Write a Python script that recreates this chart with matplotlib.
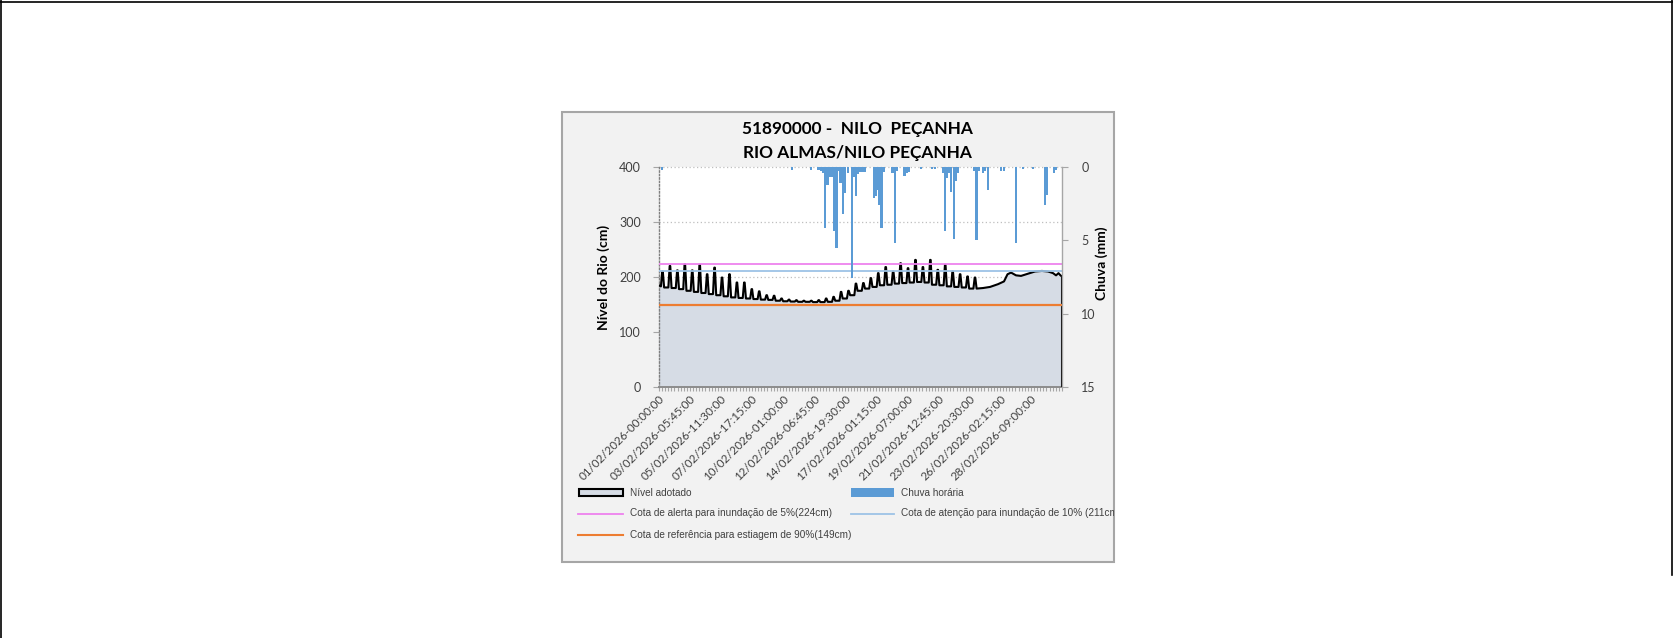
import matplotlib
matplotlib.use("Agg")
import matplotlib.pyplot as plt
from matplotlib.patches import Rectangle
from matplotlib.lines import Line2D
import numpy as np

# ---------------- data ----------------
titulo1 = "51890000 -  NILO  PEÇANHA"
titulo2 = "RIO ALMAS/NILO PEÇANHA"

rotulos_x = ["01/02/2026-00:00:00", "03/02/2026-05:45:00", "05/02/2026-11:30:00",
             "07/02/2026-17:15:00", "10/02/2026-01:00:00", "12/02/2026-06:45:00",
             "14/02/2026-19:30:00", "17/02/2026-01:15:00", "19/02/2026-07:00:00",
             "21/02/2026-12:45:00", "23/02/2026-20:30:00", "26/02/2026-02:15:00",
             "28/02/2026-09:00:00"]
horas_por_rotulo = 53.75          # 215 registros de 15 min entre rótulos
n_intervalos = 13

# nível (cm): picos de maré (hora, valor) e vales entre eles
nivel_inicio = 185
hora_pico = [6.1, 19.0, 31.9, 44.8, 57.7, 70.6, 83.5, 96.4, 109.3, 122.2, 135.1,
             148.0, 160.9, 173.8, 186.7, 199.6, 212.5, 225.4, 238.3, 251.2, 264.1,
             277.0, 289.9, 302.8, 315.7, 328.6, 341.5, 354.4, 367.3, 380.2, 393.1,
             406.0, 418.9, 431.8, 444.7, 457.6, 470.5, 483.4, 496.3, 509.2, 522.1,
             535.0, 547.9]
nivel_pico = [210, 220, 212, 223, 212, 222, 205, 217, 199, 205, 190, 190, 178, 174,
              167, 166, 161, 159, 158, 157, 157, 158, 161, 164, 173, 175, 188, 189,
              198, 207, 218, 210, 225, 216, 231, 218, 231, 213, 222, 210, 205, 201, 199]
nivel_vale = [183, 181, 180, 178, 175, 173, 171, 169, 167, 165, 163, 162, 161, 160,
              159, 158.5, 157, 156, 155.5, 155, 155, 154.5, 154.5, 155, 157, 161, 167,
              175, 179, 182, 185, 186, 188, 189, 190, 191, 190, 186, 185, 183, 182,
              181, 179, 179]
hora_final = [561.8, 574.0, 587.8, 598.2, 604.3, 610.4, 619.0, 627.7, 639.8, 652.0,
              664.0, 674.5, 683.2, 688.4, 692.7, 696.1, 698.75]
nivel_final = [180, 182, 187, 192, 205, 208, 203, 202, 206, 210, 211, 210, 207, 203,
               207, 203, 201]

# chuva horária (mm)
hora_chuva = [5.2, 230.1, 263.6, 276.6, 280.9, 284.9, 288.4, 292.2, 296.0, 300.0,
              304.3, 307.8, 311.3, 314.7, 318.7, 322.5, 327.7, 334.1, 337.6, 341.6,
              345.6, 349.4, 352.9, 356.3, 372.0, 375.4, 378.5, 382.0, 385.8, 389.3,
              404.9, 409.2, 413.0, 425.7, 430.0, 433.5, 454.3, 473.4, 478.6, 492.5,
              495.9, 499.4, 502.9, 506.3, 510.7, 515.0, 518.5, 547.1, 550.5, 554.0,
              561.8, 565.3, 571.0, 593.0, 597.4, 619.0, 631.2, 648.5, 668.8, 672.3,
              684.1, 688.4]
chuva = [0.2, 0.2, 0.2, 0.25, 0.3, 0.45, 4.2, 1.25, 0.7, 0.7,
         4.4, 5.55, 0.3, 1.1, 3.2, 1.8, 0.45, 7.6, 0.7, 2.0,
         0.5, 0.35, 0.35, 0.35, 2.15, 2.0, 1.6, 2.6, 4.2, 0.35,
         0.45, 5.2, 0.3, 0.6, 0.45, 0.35, 0.15, 0.15, 0.15, 0.45,
         4.4, 0.8, 0.45, 1.7, 4.9, 1.0, 0.45, 0.3, 5.0, 0.3,
         0.45, 0.3, 1.6, 0.3, 0.3, 5.2, 0.15, 0.15, 2.6, 1.9,
         0.4, 0.2]

cota_alerta = 224
cota_atencao = 211
cota_estiagem = 149

rotulo_nivel = "Nível adotado"
rotulo_chuva = "Chuva horária"
rotulo_alerta = "Cota de alerta para inundação de 5%(224cm)"
rotulo_atencao = "Cota de atenção para inundação de 10% (211cm)"
rotulo_estiagem = "Cota de referência para estiagem de 90%(149cm)"

# ---------------- styles ----------------
COR_AREA = "#d6dce5"
COR_CHUVA = "#5b9bd5"
COR_ALERTA = "#ee82ee"
COR_ATENCAO = "#9dc3e6"
COR_ESTIAGEM = "#ed7d31"
COR_EIXO = "#a6a6a6"
COR_TXT = "#404040"
FONTE = ["Lato", "DejaVu Sans"]
FONTE_LEG = ["Liberation Sans", "DejaVu Sans"]
base_pico = 2.8   # half width of a tide spike at its base (h)
topo_pico = 0.5   # half width of a tide spike at its top (h)

W, H = 1674, 638
fig = plt.figure(figsize=(W / 100, H / 100), dpi=100)
fig.patch.set_facecolor("white")


def fx(px):
    return px / W


def fy(py):
    return 1 - py / H


# outer frame lines of the page
fig.add_artist(Line2D([fx(1.5), fx(1.5)], [0, 1], color="black", lw=1.2))
fig.add_artist(Line2D([0, 1], [fy(1.5), fy(1.5)], color="black", lw=1.2))
fig.add_artist(Line2D([fx(1672), fx(1672)], [fy(575), 1], color="black", lw=1.2))

# chart panel
panel = Rectangle((fx(562.5), fy(561.5)), fx(1114) - fx(562.5), fy(112) - fy(561.5),
                  transform=fig.transFigure, facecolor="#f2f2f2",
                  edgecolor=COR_EIXO, linewidth=1.5, zorder=-5)
fig.add_artist(panel)

ax = fig.add_axes([fx(659), fy(387.3), fx(1062) - fx(659), fy(166.7) - fy(387.3)])
ax.set_facecolor("white")

# build level polyline from readings
t_lvl = [0.0]
v_lvl = [nivel_inicio]
for k in range(len(hora_pico)):
    t_lvl += [hora_pico[k] - base_pico, hora_pico[k] - topo_pico,
              hora_pico[k] + topo_pico, hora_pico[k] + base_pico]
    v_lvl += [nivel_vale[k], nivel_pico[k], nivel_pico[k], nivel_vale[k + 1]]
t_lvl += hora_final
v_lvl += nivel_final

ax.fill_between(t_lvl, v_lvl, 0, facecolor=COR_AREA, linewidth=0, zorder=1)
ax.plot(t_lvl, v_lvl, color="black", lw=1.5, zorder=3, solid_joinstyle="round")
ax.vlines(t_lvl[-1], 0, v_lvl[-1], color="black", lw=2.2, zorder=3)

ax.axhline(cota_alerta, color=COR_ALERTA, lw=1.3, zorder=4)
ax.axhline(cota_atencao, color=COR_ATENCAO, lw=1.3, zorder=4)
ax.axhline(cota_estiagem, color=COR_ESTIAGEM, lw=1.6, zorder=4)

span = horas_por_rotulo * n_intervalos
ax.set_xlim(0, span)
ax.set_ylim(0, 400)
ax.set_yticks([0, 100, 200, 300, 400])
for gy in [100, 200, 300, 400]:
    ax.axhline(gy, color="#bfbfbf", lw=0.9, ls=(0, (1, 2)), zorder=0.5, clip_on=False)

ax.set_xticks(np.arange(len(rotulos_x)) * horas_por_rotulo)
ax.set_xticks(np.arange(0, span + 0.01, horas_por_rotulo / 10), minor=True)
ax.set_xticklabels(rotulos_x, rotation=45, ha="right", rotation_mode="anchor",
                   fontsize=8.4, color=COR_TXT, family=FONTE)
ax.tick_params(axis="x", which="both", length=3, color=COR_EIXO, width=0.8, pad=1)
ax.tick_params(axis="y", length=4, color=COR_EIXO, width=0.8, pad=9,
               labelsize=9, labelcolor=COR_TXT)
for lab in ax.get_yticklabels():
    lab.set_family(FONTE)

ax.spines["top"].set_visible(False)
ax.spines["right"].set_visible(False)
ax.spines["left"].set_linestyle((0, (1, 1.5)))
ax.spines["left"].set_color("#7f7f7f")
ax.spines["left"].set_linewidth(1.0)
ax.spines["bottom"].set_color("#8c8c8c")
ax.spines["bottom"].set_linewidth(1.4)

# rain on secondary inverted axis
ax2 = ax.twinx()
ax2.bar(hora_chuva, chuva, width=3.6, color=COR_CHUVA, linewidth=0, zorder=2)
ax2.set_ylim(15, 0)
ax2.set_yticks([0, 5, 10, 15])
ax2.tick_params(axis="y", length=4, color=COR_EIXO, width=0.8, pad=10,
                labelsize=9, labelcolor=COR_TXT)
for lab in ax2.get_yticklabels():
    lab.set_family(FONTE)
for s in ["top", "left", "bottom"]:
    ax2.spines[s].set_visible(False)
ax2.spines["right"].set_color(COR_EIXO)
ax2.spines["right"].set_linewidth(1.0)

# titles / axis labels
fig.text(fx(857), fy(129.4), titulo1, ha="center", va="center", fontsize=12.4,
         fontweight="bold", family=FONTE, color="black")
fig.text(fx(857), fy(152.7), titulo2, ha="center", va="center", fontsize=12.4,
         fontweight="bold", family=FONTE, color="black")
fig.text(fx(603.3), fy(277), "Nível do Rio (cm)", rotation=90, ha="center", va="center",
         fontsize=10, fontweight="bold", family=FONTE, color="black")
fig.text(fx(1101.7), fy(263.5), "Chuva (mm)", rotation=90, ha="center", va="center",
         fontsize=10, fontweight="bold", family=FONTE, color="black")

# legend (drawn manually inside the panel)
def leg_patch(x0, x1, yc, h, fc, ec, lw):
    fig.add_artist(Rectangle((fx(x0), fy(yc + h / 2)), fx(x1) - fx(x0), fy(yc - h / 2) - fy(yc + h / 2),
                             transform=fig.transFigure, facecolor=fc, edgecolor=ec, linewidth=lw))


def leg_line(x0, x1, yc, color, lw):
    fig.add_artist(Line2D([fx(x0), fx(x1)], [fy(yc), fy(yc)], color=color, lw=lw))


def leg_text(x, yc, s):
    t = fig.text(fx(x), fy(yc), s, ha="left", va="center", fontsize=7.2,
                 family=FONTE_LEG, color=COR_TXT)
    t.set_clip_path(panel)
    return t


C1_H0, C1_H1, C1_T = 578.5, 623.5, 630
C2_H0, C2_H1, C2_T = 851, 894, 901.5
R1, R2, R3 = 492.5, 513.5, 535

leg_patch(C1_H0 + 0.5, C1_H1 - 0.5, R1, 6.5, COR_AREA, "black", 1.5)
leg_text(C1_T, R1, rotulo_nivel)
leg_patch(C2_H0, C2_H1, R1, 8, COR_CHUVA, "none", 0)
leg_text(C2_T, R1, rotulo_chuva)
leg_line(C1_H0, C1_H1, R2, COR_ALERTA, 1.3)
leg_text(C1_T, R2, rotulo_alerta)
leg_line(C2_H0, C2_H1, R2, COR_ATENCAO, 1.3)
leg_text(C2_T, R2, rotulo_atencao)
leg_line(C1_H0, C1_H1, R3, COR_ESTIAGEM, 1.5)
leg_text(C1_T, R3, rotulo_estiagem)

fig.savefig("out.png", dpi=100, facecolor="white")
